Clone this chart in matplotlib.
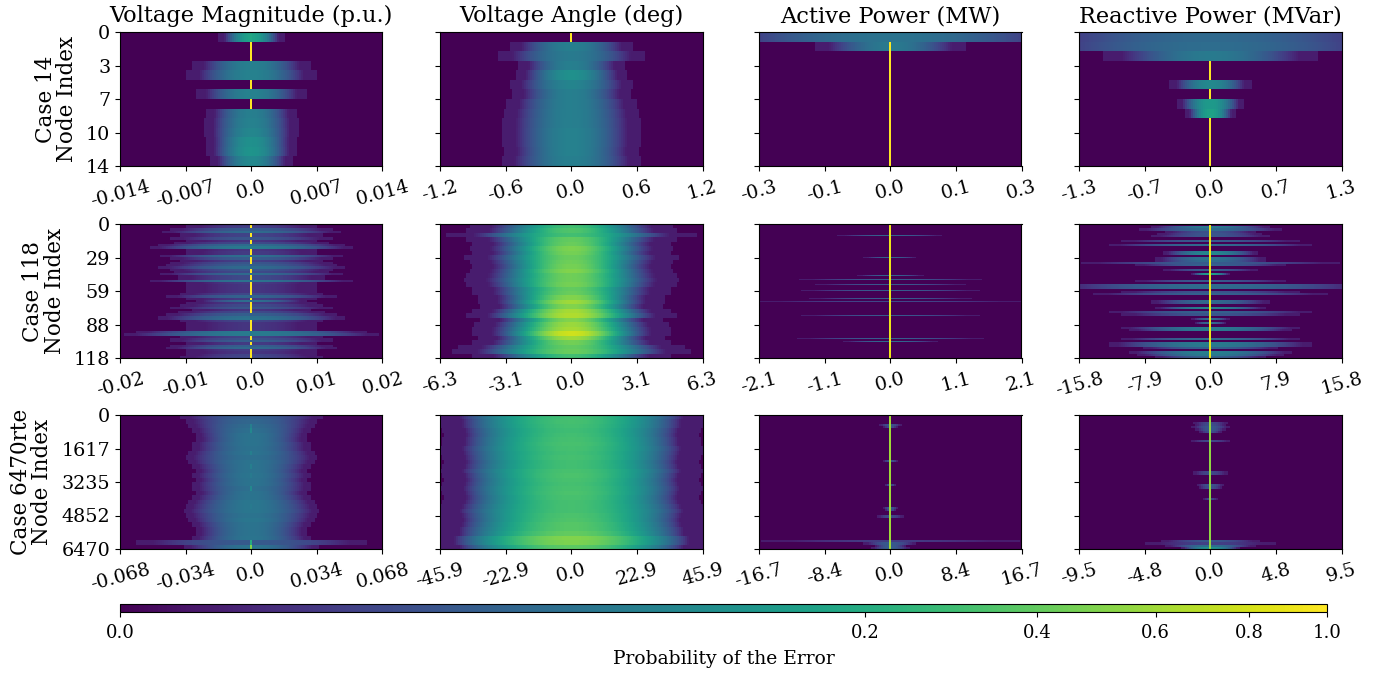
import numpy as np
import matplotlib
matplotlib.use("Agg")
import matplotlib.pyplot as plt
from matplotlib.colors import PowerNorm

plt.rcParams['font.family'] = ['DejaVu Serif']

columns = ["Voltage Magnitude (p.u.)", "Voltage Angle (deg)", "Active Power (MW)", "Reactive Power (MVar)"]
cases = ["Case 14\nNode Index", "Case 118\nNode Index", "Case 6470rte\nNode Index"]
y_labels = [["0", "3", "7", "10", "14"], ["0", "29", "59", "88", "118"], ["0", "1617", "3235", "4852", "6470"]]
x_labels = [
    [["-0.014", "-0.007", "0.0", "0.007", "0.014"], ["-1.2", "-0.6", "0.0", "0.6", "1.2"],
     ["-0.3", "-0.1", "0.0", "0.1", "0.3"], ["-1.3", "-0.7", "0.0", "0.7", "1.3"]],
    [["-0.02", "-0.01", "0.0", "0.01", "0.02"], ["-6.3", "-3.1", "0.0", "3.1", "6.3"],
     ["-2.1", "-1.1", "0.0", "1.1", "2.1"], ["-15.8", "-7.9", "0.0", "7.9", "15.8"]],
    [["-0.068", "-0.034", "0.0", "0.034", "0.068"], ["-45.9", "-22.9", "0.0", "22.9", "45.9"],
     ["-16.7", "-8.4", "0.0", "8.4", "16.7"], ["-9.5", "-4.8", "0.0", "4.8", "9.5"]],
]
x_limits = [[0.014, 1.2, 0.3, 1.3], [0.02, 6.3, 2.1, 15.8], [0.068, 45.9, 16.7, 9.5]]

# Error spread per row: width as a share of the half axis, peak probability, zero-bin spike probability
vm14_w = [.22, 0, 0, .40, .44, 0, .38, 0, .31, .32, .32, .31, .31, .28]
vm14_p = [.16, 0, 0, .06, .065, 0, .065, 0, .06, .065, .075, .10, .11, .08]
vm14_s = [.18, 1, 1, 0, 0, 1, 0, 1, 0, 0, 0, 0, 0, 0]

va14_w = [0, .42, .50, .36, .38, .42, .40, .44, .46, .47, .47, .47, .46, .48]
va14_p = [0, .06, .05, .06, .10, .07, .06, .06, .06, .06, .065, .065, .065, .06]
va14_s = [1, 0, 0, 0, 0, 0, 0, 0, 0, 0, 0, 0, 0, 0]

ap14_w = [1.45, .52, 0, 0, 0, 0, 0, 0, 0, 0, 0, 0, 0, 0]
ap14_p = [.04, .05, 0, 0, 0, 0, 0, 0, 0, 0, 0, 0, 0, 0]
ap14_s = [0, 1, 1, 1, 1, 1, 1, 1, 1, 1, 1, 1, 1, 1]

rp14_w = [1.50, 1.50, .75, 0, 0, .28, 0, .23, .17, 0, 0, 0, 0, 0]
rp14_p = [.028, .032, .05, 0, 0, .08, 0, .13, .16, 0, 0, 0, 0, 0]
rp14_s = [0, 0, 0, 1, 1, 0, 1, 0, 0, 1, 1, 1, 1, 1]

vm118_w = [.50, .50, .62, .68, .55, .55, .62, .50, .60, .72, .78, .50, .50, .50, .70, .62, .54, .62, .65, .72,
           .62, .60, .70, .56, .56, .78, .50, .50, .50, .50, .50, .55, .65, .50, .42, .50, .54, .62, .46, .56,
           .65, .72, .72, .54, .50, .50, .50, .50, .88, .98, .54, .62, .62, .50, .62, .65, .50, .50, .50, .54]
vm118_p = [.003, .004, .016, .03, .005, .005, .012, .002, .007, .03, .05, .002, .003, .003, .035, .016, .004, .012, .018, .03,
           .012, .007, .03, .007, .007, .04, .003, .002, .002, .002, .002, .006, .022, .003, .035, .003, .007, .012, .002, .007,
           .018, .035, .04, .005, .002, .002, .002, .002, .05, .052, .005, .010, .018, .003, .018, .028, .003, .002, .005, .006]
vm118_s = [1, 1, 0, 0, 1, 1, 0, 1, 1, 0, 0, 1, 1, 1, 0, 1, 1, 1, 0, 0,
           1, 1, 0, 1, 1, 0, 1, 1, 1, 1, 1, 1, 0, 1, 0, 1, 1, 1, 1, 1,
           0, 0, 0, 1, 1, 1, 1, 1, 0, 0, 1, 1, 0, 1, 0, 0, 1, 1, 1, 1]

va118_w = [.70, .72, .86, .72, .68, .70, .68, .73, .70, .68, .70, .72, .74, .72, .68, .68, .64, .64, .62, .68,
           .72, .62, .66, .68, .68, .64, .68, .78, .82, .68]
va118_p = [.30, .34, .30, .40, .42, .48, .46, .42, .44, .46, .50, .44, .44, .46, .40, .42, .50, .60, .50, .62,
           .66, .50, .58, .62, .78, .60, .45, .40, .42, .30]

ap118_rows = [10, 29, 45, 48, 53, 58, 65, 68, 80, 100, 103]
ap118_w = [.40, .20, .25, .70, .58, .68, .62, 1.05, .68, .72, .36]
ap118_p = [.022, .022, .024, .014, .014, .017, .017, .006, .014, .018, .030]

rp118_rows = [1, 2, 3, 4, 5, 7, 9, 12, 13, 15, 16, 17, 18, 20, 22, 25, 27, 28, 30, 31, 34, 35, 37, 39, 40, 42, 44, 46, 47, 51, 53, 54, 55, 57, 58, 59]
rp118_w = [.45, .55, .35, .40, .45, .68, .78, .36, .36, .42, .42, 1.0, .58, .36, .14, .58, 1.25, 1.25, .68, .90, .46, .46, .42, .78, .68, .14, .12, .68, .62, .68, .78, .78, .52, .62, .56, .42]
rp118_p = [.05, .03, .01, .012, .012, .015, .03, .07, .08, .04, .03, .015, .02, .015, .15, .015, .03, .03, .012, .02, .03, .025, .07, .02, .012, .03, .03, .05, .05, .03, .05, .05, .02, .06, .05, .02]

vm6470_w = [.54, .50, .48, .45, .43, .42, .45, .45, .48, .50, .48, .45, .43, .45, .43,
            .45, .45, .42, .45, .48, .50, .52, .50, .48, .45, .43, .43, .45, .88, .52]
vm6470_p = [.020, .025, .030, .035, .040, .040, .040, .038, .040, .035, .040, .040, .040, .042, .040,
            .040, .035, .040, .040, .045, .045, .045, .040, .045, .040, .040, .040, .042, .015, .040]
vm6470_s = [0, 0, .06, .08, 0, 0, 0, 0, .06, 0, 0, .06, 0, .05, 0,
            0, .08, 0, 0, 0, .05, 0, 0, 0, 0, 0, 0, 0, .2, .5]

va6470_w = [.88, .86, .86, .84, .83, .84, .84, .86, .85, .84, .83, .84, .86, .84, .83,
            .84, .85, .84, .83, .84, .86, .88, .86, .85, .86, .88, .88, .92, .92, .88]
va6470_p = [.30, .31, .30, .29, .30, .31, .32, .31, .30, .31, .30, .30, .32, .33, .32,
            .31, .32, .33, .32, .31, .31, .31, .33, .34, .36, .36, .40, .50, .48, .38]

ap6470_rows = [4, 5, 20, 31, 41, 42, 45, 56, 57, 58, 59]
ap6470_w = [.08, .05, .05, .04, .05, .04, .10, 1.0, .20, .12, .14]
ap6470_p = [.010, .008, .012, .008, .012, .008, .006, .003, .014, .016, .016]

rp6470_rows = [3, 4, 5, 6, 7, 11, 25, 26, 31, 32, 37, 56, 57, 58, 59]
rp6470_w = [.13, .12, .14, .11, .08, .15, .13, .13, .10, .09, .05, .38, .50, .34, .22]
rp6470_p = [.006, .008, .012, .012, .008, .006, .006, .006, .010, .008, .005, .012, .004, .035, .100]

bins = 131
tail_level = 0.0002
norm = PowerNorm(gamma=0.3, vmin=0, vmax=1)
X = np.linspace(-1, 1, bins)


def fill(rows, widths, peaks, spike, n):
    w = np.zeros(n)
    p = np.zeros(n)
    for r, a, b in zip(rows, widths, peaks):
        w[r] = a
        p[r] = b
    return w, p, [spike] * n


def grid(width, peak, spike, sharp, tail=1.0):
    out = np.zeros((len(width), bins))
    for i, (a, b, s) in enumerate(zip(width, peak, spike)):
        if a > 0:
            core = b * np.clip(1 - (X / a) ** 2, 0, 1) ** sharp
            out[i] = np.where(np.abs(X) < a * tail, np.maximum(core, tail_level), core)
        if s > 0:
            out[i, bins // 2] = s
    return out


zeros30 = [0] * 30
panels = [
    [grid(vm14_w, vm14_p, vm14_s, 3.3, 1.12), grid(va14_w, va14_p, va14_s, 3.3, 1.12),
     grid(ap14_w, ap14_p, ap14_s, 3.3, 1.1), grid(rp14_w, rp14_p, rp14_s, 3.3, 1.1)],
    [grid(vm118_w, vm118_p, vm118_s, 3.3), grid(va118_w, va118_p, zeros30, 5.0, 1.12),
     grid(*fill(ap118_rows, ap118_w, ap118_p, .9, 118), 3.3), grid(*fill(rp118_rows, rp118_w, rp118_p, .9, 60), 3.3)],
    [grid(vm6470_w, vm6470_p, vm6470_s, 3.3), grid(va6470_w, va6470_p, zeros30, 2.5, 1.18),
     grid(*fill(ap6470_rows, ap6470_w, ap6470_p, .6, 60), 3.3), grid(*fill(rp6470_rows, rp6470_w, rp6470_p, .55, 60), 3.3)],
]

W, H = 1388, 677
fig = plt.figure(figsize=(W / 100, H / 100), dpi=100)
lefts = [120, 440, 759, 1079]
tops = [32, 224, 415]
ax_w, ax_h = 262.5, 134

im = None
for r in range(3):
    for c in range(4):
        ax = fig.add_axes([lefts[c] / W, 1 - (tops[r] + ax_h) / H, ax_w / W, ax_h / H])
        R = x_limits[r][c]
        im = ax.imshow(panels[r][c], aspect='auto', cmap='viridis', norm=norm,
                       extent=[-R, R, 1, 0], interpolation='nearest')
        ax.set_xticks(np.linspace(-R, R, 5))
        ax.set_xticklabels(x_labels[r][c], rotation=15, fontsize=13.8)
        ax.tick_params(axis='x', pad=5)
        ax.set_yticks(np.linspace(0, 1, 5))
        if c == 0:
            ax.set_yticklabels(y_labels[r], fontsize=13.8)
            ax.set_ylabel(cases[r], fontsize=15.5, labelpad=6, linespacing=0.95)
        else:
            ax.set_yticklabels([])
        if r == 0:
            ax.set_title(columns[c], fontsize=16.2, pad=7)

cax = fig.add_axes([120 / W, 1 - 612 / H, 1207 / W, 8 / H])
cb = fig.colorbar(im, cax=cax, orientation='horizontal')
cb.set_ticks([0, .2, .4, .6, .8, 1.0])
cb.set_ticklabels(["0.0", "0.2", "0.4", "0.6", "0.8", "1.0"], fontsize=13)
cb.ax.tick_params(axis='x', pad=5)
cb.minorticks_off()
cb.set_label("Probability of the Error", fontsize=13.5, labelpad=6)

fig.savefig("out.png", dpi=100)
